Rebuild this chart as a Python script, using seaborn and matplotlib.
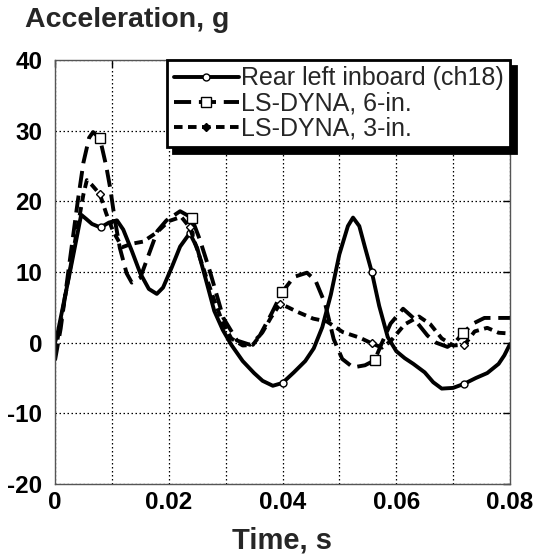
import numpy as np
import pandas as pd
import matplotlib
matplotlib.use("Agg")
import matplotlib.pyplot as plt
import seaborn as sns

# ---- data ----
t_exp = [0, 0.0005, 0.0015, 0.003, 0.0046, 0.0055, 0.0065, 0.008, 0.0095, 0.0109,
         0.012, 0.0135, 0.015, 0.0165, 0.0179, 0.019, 0.0205, 0.022, 0.0237, 0.025,
         0.0265, 0.028, 0.0295, 0.031, 0.033, 0.035, 0.0365, 0.0383, 0.040, 0.042,
         0.044, 0.0455, 0.047, 0.0485, 0.050, 0.0515, 0.0524, 0.0535, 0.0545, 0.0557,
         0.057, 0.0585, 0.060, 0.0615, 0.063, 0.065, 0.0665, 0.068, 0.070, 0.072,
         0.074, 0.076, 0.078, 0.079, 0.080]
a_exp = [0, 1.5, 5.5, 11.5, 18.1, 17.5, 16.8, 16.3, 17.0, 17.3,
         16.0, 13.0, 9.8, 7.6, 6.9, 7.8, 10.6, 13.6, 15.5, 13.4,
         9.0, 4.5, 1.8, -0.3, -2.6, -4.3, -5.4, -6.1, -5.7, -4.2,
         -2.6, -0.8, 2.2, 6.8, 12.5, 16.5, 17.7, 16.5, 13.5, 10.0,
         5.2, 0.8, -1.2, -2.2, -3.0, -4.2, -5.6, -6.5, -6.4, -5.8,
         -5.0, -4.3, -3.0, -1.8, -0.2]
mk_exp = [0.008, 0.0237, 0.040, 0.0557, 0.072]

t_6in = [0, 0.001, 0.002, 0.003, 0.004, 0.005, 0.006, 0.0067, 0.0079, 0.009,
         0.0097, 0.0105, 0.0114, 0.0126, 0.0135, 0.015, 0.0165, 0.018, 0.0196, 0.022,
         0.024, 0.0255, 0.0272, 0.0296, 0.032, 0.0343, 0.036, 0.038, 0.0399, 0.042,
         0.0443, 0.0458, 0.0475, 0.049, 0.0505, 0.0524, 0.0545, 0.0562, 0.0575, 0.059,
         0.0612, 0.063, 0.0655, 0.067, 0.069, 0.0705, 0.0718, 0.0735, 0.0755, 0.080]
a_6in = [-2.5, 2, 8, 14, 20, 25.5, 29.0, 29.8, 28.9, 25,
         21.9, 17.5, 13.4, 9.8, 8.5, 9.2, 12.5, 15.8, 17.3, 18.6,
         17.7, 14.5, 10.2, 3.5, 0.3, -0.3, 1.0, 4.0, 7.1, 9.3,
         9.9, 8.8, 5.5, 0.5, -2.3, -3.5, -3.2, -2.5, 0.0, 2.7,
         4.8, 3.5, 1.0, 0.0, -0.6, 0.2, 1.4, 2.7, 3.5, 3.5]
mk_6in = [0.0079, 0.024, 0.0399, 0.0562, 0.0718]

t_3in = [0, 0.001, 0.002, 0.003, 0.004, 0.005, 0.0056, 0.0065, 0.0079, 0.009,
         0.0102, 0.0118, 0.0135, 0.0155, 0.0179, 0.0200, 0.0222, 0.0237, 0.025, 0.0265,
         0.028, 0.0295, 0.031, 0.033, 0.0348, 0.0365, 0.038, 0.0396, 0.041, 0.0425,
         0.0454, 0.0478, 0.0506, 0.0536, 0.0557, 0.0575, 0.059, 0.0615, 0.064, 0.066,
         0.068, 0.070, 0.072, 0.0738, 0.076, 0.078, 0.080]
a_3in = [-1.5, 3, 7.5, 12, 16.5, 21, 23.0, 22.3, 21.0, 18.3,
         15.8, 13.5, 14.0, 14.3, 15.6, 17.2, 17.8, 16.3, 13.2, 9.5,
         6.0, 2.8, 0.6, -0.4, -0.3, 1.5, 3.6, 5.5, 5.0, 4.4,
         3.4, 3.0, 1.5, 0.7, -0.1, -0.7, 0.2, 2.6, 3.7, 2.6,
         0.6, -0.4, -0.3, 1.6, 2.1, 1.4, 1.3]
mk_3in = [0.0079, 0.0237, 0.0396, 0.0557, 0.072]

labels = ["Rear left inboard (ch18)", "LS-DYNA, 6-in.", "LS-DYNA, 3-in."]
x_ticks = [0, 0.02, 0.04, 0.06, 0.08]
x_ticklabels = ["0", "0.02", "0.04", "0.06", "0.08"]
y_ticks = [-20, -10, 0, 10, 20, 30, 40]

# ---- style ----
sns.set_style("white")
plt.rcParams["font.family"] = ["Liberation Sans", "DejaVu Sans"]
plt.rcParams["xtick.direction"] = "in"
plt.rcParams["ytick.direction"] = "in"

fig = plt.figure(figsize=(5.35, 5.56), dpi=100)
ax = fig.add_axes([55 / 535, 1 - 484 / 556, 455 / 535, 424 / 556])

series = [
    (t_exp, a_exp, mk_exp, labels[0], "-", "o", 5, "white"),
    (t_6in, a_6in, mk_6in, labels[1], (0, (4.4, 2.0)), "s", 7, "white"),
    (t_3in, a_3in, mk_3in, labels[2], (0, (2.2, 1.4)), "D", 4, "white"),
]

for t, a, mk, lab, ls, marker, ms, mfc in series:
    df = pd.DataFrame({"t": t, "a": a})
    idx = [int(np.argmin(np.abs(np.array(t) - m))) for m in mk]
    sns.lineplot(data=df, x="t", y="a", ax=ax, color="black", linewidth=2.8,
                 linestyle=ls, marker=marker, markersize=ms, markevery=idx,
                 markerfacecolor=mfc, markeredgecolor="black", markeredgewidth=1.0,
                 label=lab, sort=False, estimator=None)

ax.set_xlim(0, 0.08)
ax.set_ylim(-20, 40)
ax.set_xticks(np.arange(0, 0.0801, 0.01))
ax.set_xticklabels([x_ticklabels[i // 2] if i % 2 == 0 else "" for i in range(9)])
ax.set_yticks(y_ticks)
ax.set_yticklabels([str(v) for v in y_ticks])
ax.tick_params(axis="both", which="both", direction="in", length=5, width=1,
               top=True, right=True, labelsize=17.5, colors="black")
ax.tick_params(axis="y", pad=9)
ax.tick_params(axis="x", pad=5)
for lab in ax.get_xticklabels() + ax.get_yticklabels():
    lab.set_fontweight("bold")

ax.grid(True, color="black", linestyle=(0, (1.2, 2.0)), linewidth=0.9)
for s in ax.spines.values():
    s.set_color("#555555")
    s.set_linewidth(1.0)

ax.set_xlabel("Time, s", fontsize=21, fontweight="bold", labelpad=9)
ax.set_ylabel("")
fig.text(25 / 535, 1 - 7 / 556, "Acceleration, g", fontsize=20.5, fontweight="bold",
         ha="left", va="top")

leg = ax.legend(loc="upper right", bbox_to_anchor=(1.0, 1.0), borderaxespad=0.0,
                fontsize=18, frameon=True, fancybox=False,
                shadow={"color": "black", "alpha": 1.0, "ox": 4, "oy": -4},
                handlelength=2.6, handletextpad=0.1, labelspacing=0.05,
                borderpad=0.25, numpoints=1)
leg.get_frame().set_edgecolor("black")
leg.get_frame().set_linewidth(2.0)
leg.get_frame().set_facecolor("white")
leg.get_frame().set_alpha(1.0)
hs = leg.legend_handles
hs[2].set_markerfacecolor("black")
hs[2].set_markersize(4)

fig.savefig("out.png", dpi=100)
